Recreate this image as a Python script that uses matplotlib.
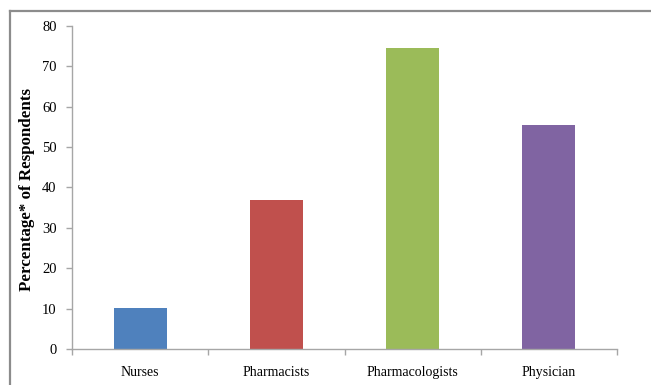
import matplotlib
matplotlib.use("Agg")
import matplotlib.pyplot as plt
from matplotlib.lines import Line2D
import numpy as np

categories = ["Nurses", "Pharmacists", "Pharmacologists", "Physician"]
values = [10.1, 36.8, 74.6, 55.6]
colors = ["#4F81BD", "#C0504D", "#9BBB59", "#8064A2"]
yticks = [0, 10, 20, 30, 40, 50, 60, 70, 80]

plt.rcParams["font.family"] = ["Liberation Serif", "DejaVu Serif"]

W, H = 651, 385
fig = plt.figure(figsize=(W / 100, H / 100), dpi=100)
ax = fig.add_axes([72 / W, 36 / H, (617 - 72) / W, (349 - 26) / H])

x = np.arange(len(categories))
ax.bar(x, values, width=0.39, color=colors, zorder=2)

ax.set_xlim(-0.5, len(categories) - 0.5)
ax.set_ylim(0, 80)
ax.set_yticks(yticks)
ax.set_xticks(x)
ax.set_xticklabels(categories)
ax.set_xticks(np.arange(-0.5, len(categories), 1.0), minor=True)

spine_color = "#a6a6a6"
for side in ("top", "right"):
    ax.spines[side].set_visible(False)
for side in ("left", "bottom"):
    ax.spines[side].set_color(spine_color)
    ax.spines[side].set_linewidth(1.0)

ax.tick_params(axis="y", direction="out", length=4, width=1.0, color=spine_color,
               labelsize=10.5, pad=7)
ax.tick_params(axis="x", which="major", length=0, labelsize=10, pad=12)
ax.tick_params(axis="x", which="minor", direction="out", length=4, width=1.0,
               color=spine_color)

ax.set_ylabel("Percentage* of Respondents", fontsize=12.2, fontweight="bold",
              va="center")
ax.yaxis.set_label_coords((27 - 72) / (617 - 72), 0.495)

# outer frame: top and left edges
frame_color = "#8c8c8c"
fig.add_artist(Line2D([9.5 / W, 1.0], [1 - 10.5 / H, 1 - 10.5 / H],
                      transform=fig.transFigure, color=frame_color, lw=1.6))
fig.add_artist(Line2D([9.5 / W, 9.5 / W], [0.0, 1 - 10.5 / H],
                      transform=fig.transFigure, color=frame_color, lw=1.6))

fig.savefig("out.png", dpi=100)
